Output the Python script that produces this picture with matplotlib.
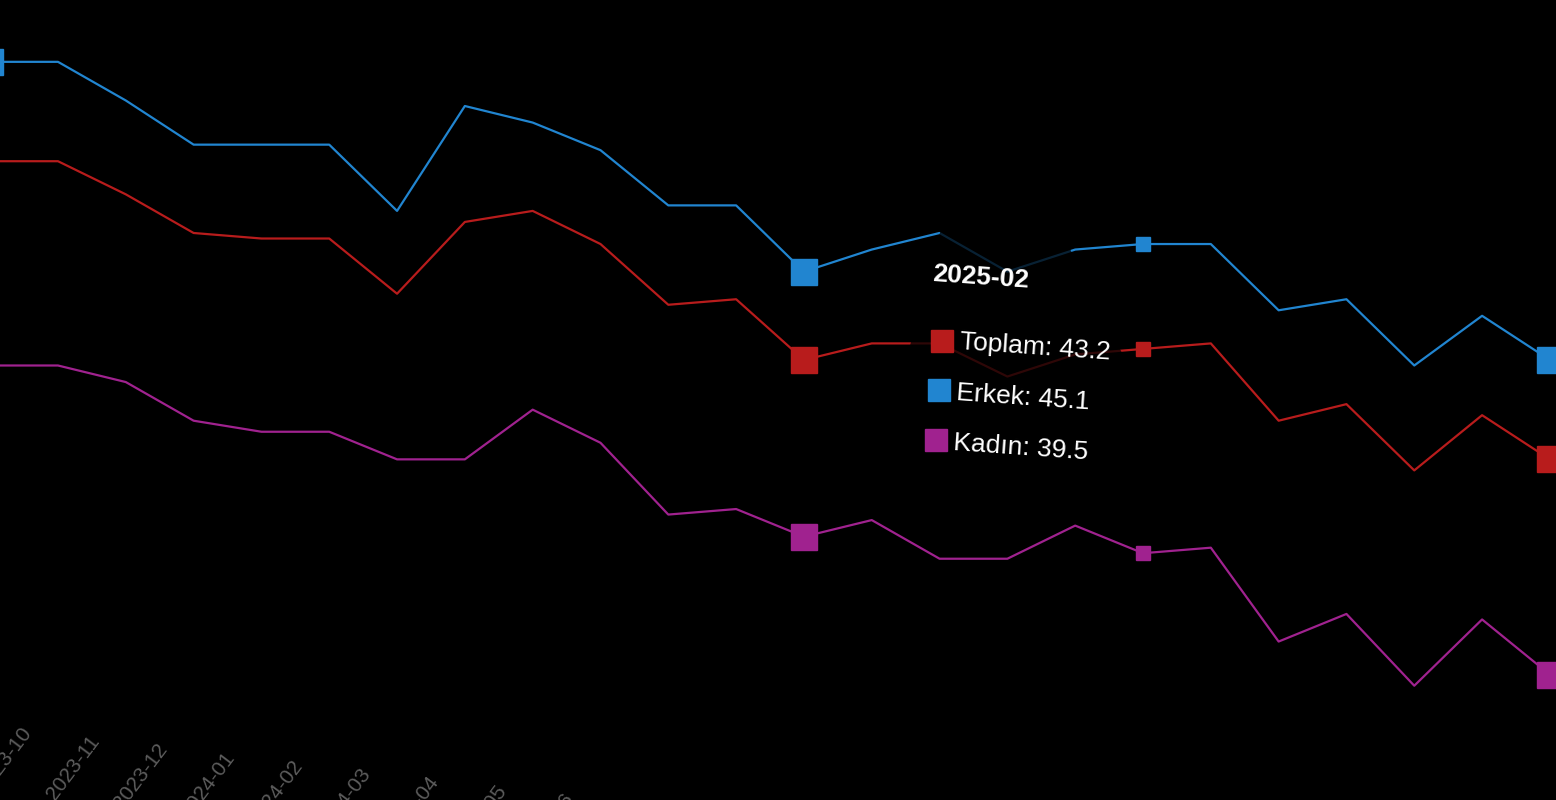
import matplotlib.pyplot as plt
from matplotlib.transforms import offset_copy, Affine2D
from matplotlib.patches import Polygon

# Monthly series
months = ['2023-09', '2023-10', '2023-11', '2023-12', '2024-01', '2024-02',
          '2024-03', '2024-04', '2024-05', '2024-06', '2024-07', '2024-08',
          '2024-09', '2024-10', '2024-11', '2024-12', '2025-01', '2025-02',
          '2025-03', '2025-04', '2025-05', '2025-06', '2025-07', '2025-08']
toplam = [46.6, 46.6, 46.0, 45.3, 45.2, 45.2, 44.2, 45.5, 45.7, 45.1, 44.0, 44.1,
          43.0, 43.3, 43.3, 42.7, 43.1, 43.2, 43.3, 41.9, 42.2, 41.0, 42.0, 41.2]
erkek = [48.4, 48.4, 47.7, 46.9, 46.9, 46.9, 45.7, 47.6, 47.3, 46.8, 45.8, 45.8,
         44.6, 45.0, 45.3, 44.6, 45.0, 45.1, 45.1, 43.9, 44.1, 42.9, 43.8, 43.0]
kadin = [42.9, 42.9, 42.6, 41.9, 41.7, 41.7, 41.2, 41.2, 42.1, 41.5, 40.2, 40.3,
         39.8, 40.1, 39.4, 39.4, 40.0, 39.5, 39.6, 37.9, 38.4, 37.1, 38.3, 37.3]

series = [('Toplam', toplam, '#b81c1c'),
          ('Erkek', erkek, '#2185d0'),
          ('Kadın', kadin, '#a0228f')]
big_markers = [12, 23]
hover = months.index('2025-02')

W, H = 1556, 800
fig = plt.figure(figsize=(W / 100, H / 100), dpi=100, facecolor='black')
ax = fig.add_axes([0, 0, 1, 1], facecolor='black')
x = list(range(len(months)))

for name, vals, color in series:
    ax.plot(x, vals, color=color, lw=1.6, zorder=2)
    ax.plot(big_markers, [vals[i] for i in big_markers], 's', color=color,
            ms=19, zorder=3)
    # hovered point
    ax.plot([hover], [vals[hover]], 's', color=color, ms=10, zorder=3)
# the first Erkek point is highlighted too (cut by the left edge)
ax.plot([0], [erkek[0]], 's', color='#2185d0', ms=19, zorder=3)

ax.set_xlim(0.145, 23.09)
ax.set_ylim(35.03, 49.52)
ax.set_xticks([])
ax.set_yticks([])
for s in ax.spines.values():
    s.set_visible(False)

# bottom axis labels: the view is tilted, so they drift down and out of frame
for i, m in enumerate(months):
    ax.annotate(m, (i, 1 - (724 + 8.2 * (i - 1)) / H),
                xycoords=('data', 'axes fraction'), xytext=(-38, 0),
                textcoords='offset pixels', rotation=53,
                rotation_mode='anchor', ha='right', va='top',
                color='#5c5c5c', fontsize=15, family='Liberation Sans')

# tooltip: translucent panel dims the lines behind it
fig.canvas.draw()
px, py = ax.transData.transform((hover, erkek[hover]))
panel = Polygon([(-201, 19), (-85, 19), (45, -241), (-270, -241)], closed=True,
                facecolor='black', alpha=0.75, edgecolor='none', zorder=4,
                transform=Affine2D().translate(px, py))
ax.add_patch(panel)

ax.annotate(months[hover], (hover, erkek[hover]), xytext=(-211, -18),
            textcoords='offset pixels', ha='left', va='top', color='white',
            fontsize=19, fontweight='bold', rotation=-4,
            family='Liberation Sans', zorder=6)
rows = [(-97, -103), (-146, -154), (-196, -204)]
for k, (name, vals, color) in enumerate(series):
    sdy, tdy = rows[k]
    tr = offset_copy(ax.transData, fig, x=-201 - 3 * k, y=sdy, units='dots')
    ax.plot([hover], [erkek[hover]], 's', color=color, ms=16, transform=tr,
            zorder=6)
    ax.annotate(f'{name}: {vals[hover]}', (hover, erkek[hover]),
                xytext=(-184 - 3 * k, tdy), textcoords='offset pixels',
                ha='left', va='center', color='white', fontsize=19,
                rotation=-4, family='Liberation Sans', zorder=6)

fig.savefig('out.png', dpi=100, facecolor='black')
